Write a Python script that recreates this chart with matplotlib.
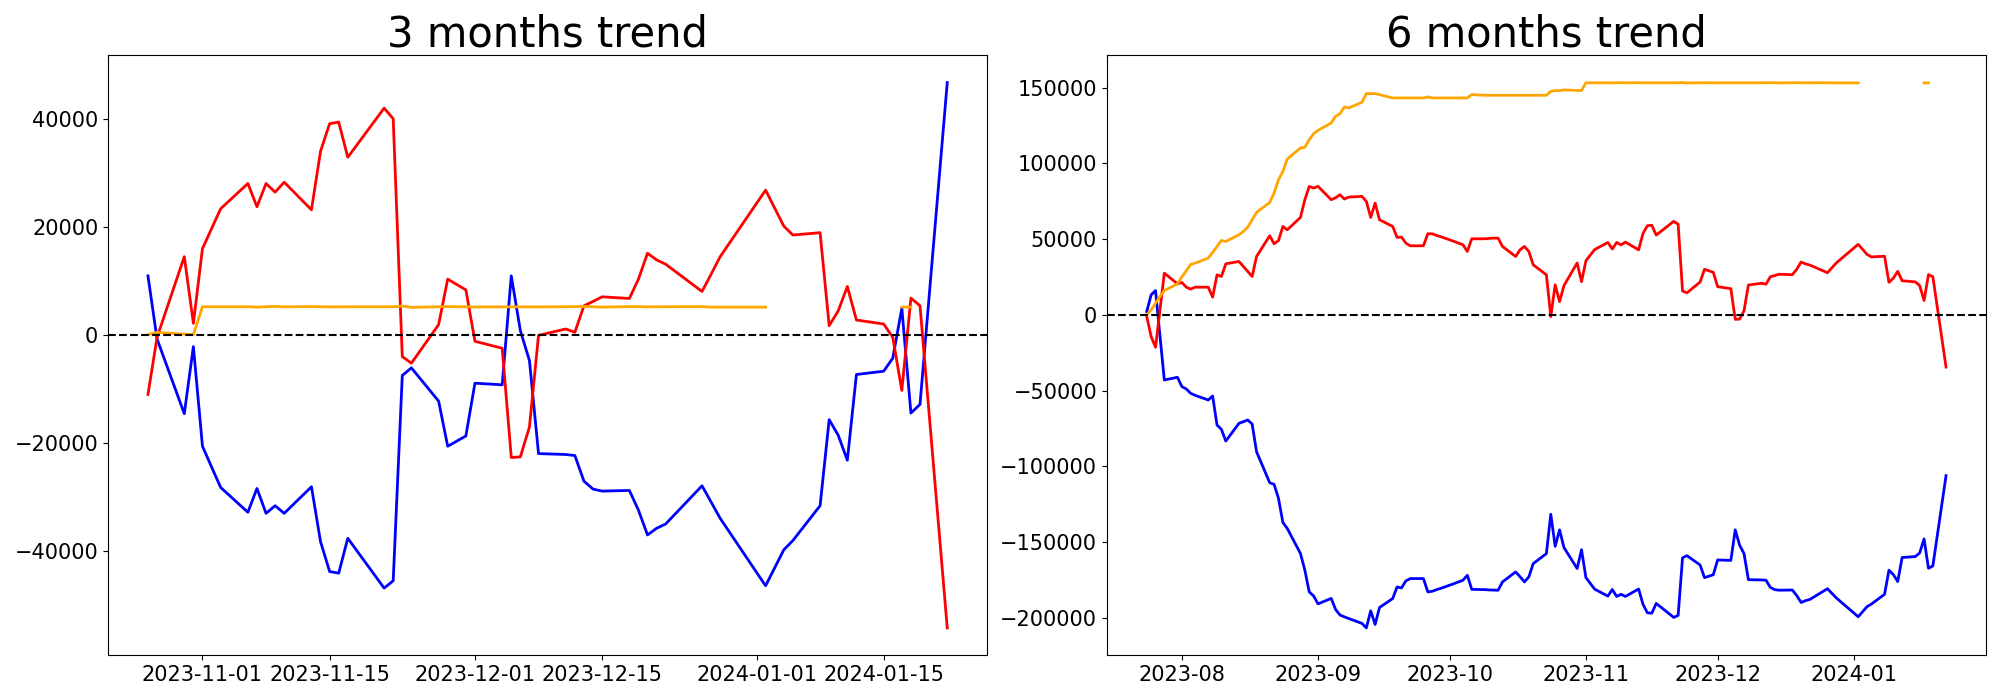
import numpy as np
import pandas as pd
import matplotlib
matplotlib.use("Agg")
import matplotlib.pyplot as plt

nan = np.nan

# ---------------- 3 months panel ----------------
dates_3m = ["2023-10-26", "2023-10-27", "2023-10-30", "2023-10-31", "2023-11-01",
            "2023-11-03", "2023-11-06", "2023-11-07", "2023-11-08", "2023-11-09",
            "2023-11-10", "2023-11-13", "2023-11-14", "2023-11-15", "2023-11-16",
            "2023-11-17", "2023-11-21", "2023-11-22", "2023-11-23", "2023-11-24",
            "2023-11-27", "2023-11-28", "2023-11-30", "2023-12-01", "2023-12-04",
            "2023-12-05", "2023-12-06", "2023-12-07", "2023-12-08", "2023-12-11",
            "2023-12-12", "2023-12-13", "2023-12-14", "2023-12-15", "2023-12-18",
            "2023-12-19", "2023-12-20", "2023-12-21", "2023-12-22", "2023-12-26",
            "2023-12-27", "2023-12-28", "2024-01-02", "2024-01-04", "2024-01-05",
            "2024-01-08", "2024-01-09", "2024-01-10", "2024-01-11", "2024-01-12",
            "2024-01-15", "2024-01-16", "2024-01-17", "2024-01-18", "2024-01-19",
            "2024-01-22"]
blue_3m = [10890, -800, -14640, -2215, -20675,
           -28300, -32900, -28490, -33100, -31690,
           -33100, -28180, -38340, -43880, -44180,
           -37720, -46950, -45600, -7570, -6150,
           -12310, -20675, -18770, -8990, -9290,
           10890, 740, -4800, -22030, -22200,
           -22400, -27140, -28610, -28980, -28860,
           -32500, -37100, -35870, -35070, -28000,
           -31000, -34030, -46520, -39870, -38150,
           -31690, -15750, -18650, -23260, -7380,
           -6770, -4370, 4920, -14520, -12920,
           46700]
red_3m = [-11080, -500, 14450, 2090, 15930,
          23320, 28000, 23690, 28000, 26400,
          28240, 23130, 33970, 39080, 39380,
          32860, 41960, 40000, -4060, -5290,
          1850, 10280, 8300, -1230, -2520,
          -22760, -22640, -17100, -120, 1050,
          430, 5350, 6150, 7010, 6700,
          10280, 15080, 13850, 13050, 8000,
          11200, 14450, 26770, 20120, 18460,
          18890, 1660, 4430, 8920, 2710,
          1970, -490, -10340, 6770, 5350,
          -54330]
orange_3m = [0, 430, 100, 0, 5170,
             5170, 5170, 5100, 5170, 5230,
             5150, 5210, 5170, 5150, 5150,
             5170, 5170, 5170, 5300, 5050,
             5170, 5200, 5150, 5130, 5150,
             5150, 5150, 5150, 5150, 5170,
             5200, 5230, 5170, 5100, 5200,
             5200, 5150, 5170, 5170, 5200,
             5100, 5100, 5100, nan, nan,
             nan, nan, nan, nan, nan,
             nan, nan, 5100, 5100, nan,
             nan]

# ---------------- 6 months panel ----------------
dates_6m = ["2023-07-24", "2023-07-25", "2023-07-26", "2023-07-27", "2023-07-28",
            "2023-07-31", "2023-08-01", "2023-08-02", "2023-08-03", "2023-08-04",
            "2023-08-07", "2023-08-08", "2023-08-09", "2023-08-10", "2023-08-11",
            "2023-08-14", "2023-08-15", "2023-08-16", "2023-08-17", "2023-08-18",
            "2023-08-21", "2023-08-22", "2023-08-23", "2023-08-24", "2023-08-25",
            "2023-08-28", "2023-08-29", "2023-08-30", "2023-08-31", "2023-09-01",
            "2023-09-04", "2023-09-05", "2023-09-06", "2023-09-07", "2023-09-08",
            "2023-09-11", "2023-09-12", "2023-09-13", "2023-09-14", "2023-09-15",
            "2023-09-18", "2023-09-19", "2023-09-20", "2023-09-21", "2023-09-22",
            "2023-09-25", "2023-09-26", "2023-09-27", "2023-09-28", "2023-09-29",
            "2023-10-02", "2023-10-03", "2023-10-04", "2023-10-05", "2023-10-06",
            "2023-10-09", "2023-10-10", "2023-10-11", "2023-10-12", "2023-10-13",
            "2023-10-16", "2023-10-17", "2023-10-18", "2023-10-19", "2023-10-20",
            "2023-10-23", "2023-10-24", "2023-10-25"] + dates_3m
blue_6m = [2200, 13230, 16080, -13500, -43000,
           -41230, -47400, -48940, -51790, -53130,
           -56220, -53570, -72750, -75620, -83340,
           -71650, -70550, -69450, -72100, -90390,
           -110900, -112000, -121260, -137130, -141100,
           -157630, -168660, -183000, -185700, -190900,
           -187300, -194600, -198300, -199500, -200600,
           -203800, -206800, -195500, -204500, -193300,
           -187400, -179700, -180400, -175700, -174200,
           -174200, -183000, -182600, -181500, -180600,
           -177500, -176400, -175300, -172000, -181300,
           -181500, -181700, -181800, -181900, -176400,
           -169800, -173000, -176400, -173100, -164300,
           -157700, -131700, -152900,
           # from 2023-10-26
           -142010, -153700, -167540, -155120, -173580,
           -181200, -185800, -181390, -186000, -184590,
           -186000, -181080, -191240, -196780, -197080,
           -190620, -199850, -198500, -160470, -159050,
           -165210, -173580, -171670, -161890, -162190,
           -142010, -152160, -157700, -174930, -175100,
           -175300, -180040, -181510, -181880, -181760,
           -185400, -190000, -188770, -187970, -180900,
           -183900, -186930, -199420, -192770, -191050,
           -184590, -168650, -171550, -176160, -160280,
           -159670, -157270, -147980, -167420, -165820,
           -106200]
red_6m = [-1100, -14330, -21390, 3000, 27560,
          20500, 21390, 18300, 17000, 18300,
          18300, 11700, 26460, 25350, 33730,
          35280, 31970, 28660, 25350, 38580,
          52250, 46960, 49160, 58420, 56220,
          64380, 76060, 84880, 83780, 84880,
          76060, 77380, 79370, 76500, 77830,
          78270, 74960, 64380, 73860, 62830,
          58420, 51150, 51370, 47400, 45640,
          45640, 53570, 53570, 52470, 51600,
          48500, 47400, 46300, 41890, 50270,
          50270, 50500, 50710, 50710, 45200,
          38580, 42990, 45200, 41890, 33070,
          26460, -1100, 19840,
          # from 2023-10-26
          8760, 19340, 34290, 21930, 35770,
          43160, 47840, 43530, 47840, 46240,
          48080, 42970, 53810, 58920, 59220,
          52700, 61800, 59840, 15780, 14550,
          21690, 30120, 28140, 18610, 17320,
          -2920, -2800, 2740, 19720, 20890,
          20270, 25190, 25990, 26850, 26540,
          30120, 34920, 33690, 32890, 27840,
          31040, 34290, 46610, 39960, 38300,
          38730, 21500, 24270, 28760, 22550,
          21810, 19350, 9500, 26610, 25190,
          -34490]
orange_6m = [0, 3300, 7700, 12130, 16090,
             20500, 25130, 29100, 33290, 34170,
             37480, 41230, 45200, 49160, 48500,
             52910, 55120, 57980, 62830, 67680,
             74300, 80470, 89290, 94800, 102960,
             110240, 110680, 115750, 119700, 121920,
             126770, 131180, 132940, 137350, 136690,
             140440, 146170, 146170, 146170, 145500,
             143300, 143300, 143300, 143300, 143300,
             143300, 143970, 143300, 143300, 143300,
             143300, 143300, 143300, 143300, 145500,
             145070, 145070, 145070, 145070, 145070,
             145070, 145070, 145070, 145070, 145070,
             145070, 147720, 148160,
             # from 2023-10-26
             148160, 148590, 148260, 148160, 153330,
             153330, 153330, 153260, 153330, 153390,
             153310, 153370, 153330, 153310, 153310,
             153330, 153330, 153330, 153460, 153210,
             153330, 153360, 153310, 153290, 153310,
             153310, 153310, 153310, 153310, 153330,
             153360, 153390, 153330, 153260, 153360,
             153360, 153310, 153330, 153330, 153360,
             153260, 153260, 153260, nan, nan,
             nan, nan, nan, nan, nan,
             nan, nan, 153260, 153260, nan,
             nan]

titles = ["3 months trend", "6 months trend"]

fig, axes = plt.subplots(1, 2, figsize=(20, 7), dpi=100)
panels = [(dates_3m, blue_3m, red_3m, orange_3m),
          (dates_6m, blue_6m, red_6m, orange_6m)]
for ax, title, (d, b, r, o) in zip(axes, titles, panels):
    x = pd.to_datetime(d)
    ax.plot(x, b, color="blue", lw=2)
    ax.plot(x, r, color="red", lw=2)
    ax.plot(x, o, color="orange", lw=2)
    ax.axhline(0, color="black", ls="--", lw=1.5)
    ax.set_title(title, fontsize=30)
    ax.tick_params(labelsize=15)

fig.subplots_adjust(left=0.054, right=0.993, bottom=0.064, top=0.921, wspace=0.136)
fig.savefig("out.png", dpi=100)
